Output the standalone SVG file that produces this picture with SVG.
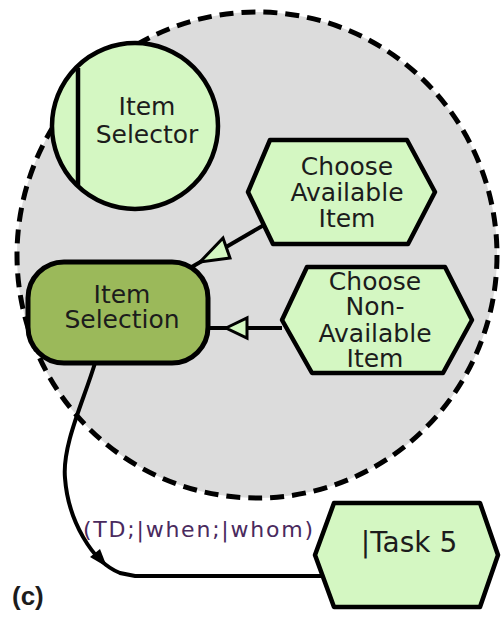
<svg xmlns="http://www.w3.org/2000/svg" width="501" height="619" viewBox="0 0 501 619">
<style>
.lt{fill:#d4f7c2;stroke:#000;stroke-width:4.5;stroke-linejoin:round}
.dk{fill:#9bb95a;stroke:#000;stroke-width:5}
.t{font-family:"DejaVu Sans",Verdana,sans-serif;font-size:25px;fill:#1c1c1c;text-anchor:middle}
.ln{fill:none;stroke:#000;stroke-width:4}
.oh{fill:#d4f7c2;stroke:#000;stroke-width:3;stroke-linejoin:miter}
</style>
<rect width="501" height="619" fill="#fff"/>
<g id="boundary">
<ellipse cx="257" cy="255" rx="240" ry="243" fill="#dcdcdc" stroke="#000" stroke-width="5" stroke-dasharray="14,8"/>
</g>
<g id="connectors">
<line class="ln" x1="264" y1="225" x2="190" y2="268"/>
<polygon class="oh" points="200,262 223,238 230,258"/>
<line class="ln" x1="282" y1="328" x2="208" y2="328"/>
<polygon class="oh" points="226,328 247,318 247,338"/>
<path class="ln" d="M95,363 C84,400 62,445 65,478 C68,520 92,562 120,573 L135,576 L322,576" stroke-width="3.5"/>
<polygon points="107,567 90,557 100,549" fill="#000"/>
<text x="83" y="537" font-family="'DejaVu Sans',Verdana,sans-serif" font-size="22" fill="#4a2a5e" textLength="230" lengthAdjust="spacing">(TD;|when;|whom)</text>
</g>
<g id="item-selector">
<circle class="lt" cx="135" cy="126" r="83"/>
<line x1="78" y1="68" x2="78" y2="185" stroke="#000" stroke-width="4.5"/>
<text class="t" x="147" y="115">Item</text>
<text class="t" x="147" y="143">Selector</text>
</g>
<g id="choose-available-item">
<polygon class="lt" points="248,192 270,140 407,140 435,192 408,244 273,244"/>
<text class="t" x="347" y="175">Choose</text>
<text class="t" x="347" y="201">Available</text>
<text class="t" x="347" y="227">Item</text>
</g>
<g id="item-selection">
<rect class="dk" x="28" y="262" width="180" height="101" rx="36" ry="36"/>
<text class="t" x="122" y="303">Item</text>
<text class="t" x="122" y="328">Selection</text>
</g>
<g id="choose-non-available-item">
<polygon class="lt" points="282,320 307,267 445,267 472,320 443,373 312,373"/>
<text class="t" x="375" y="290">Choose</text>
<text class="t" x="375" y="315">Non-</text>
<text class="t" x="375" y="342">Available</text>
<text class="t" x="375" y="367">Item</text>
</g>
<g id="task-5">
<polygon class="lt" points="315,555 334,503 480,503 498,555 480,607 334,607"/>
<text class="t" x="409" y="552" style="font-size:28px">|Task 5</text>
</g>
<text x="12" y="605" font-family="'Liberation Sans',Arial,sans-serif" font-size="26" font-weight="bold" fill="#1c1c1c">(c)</text>
</svg>
